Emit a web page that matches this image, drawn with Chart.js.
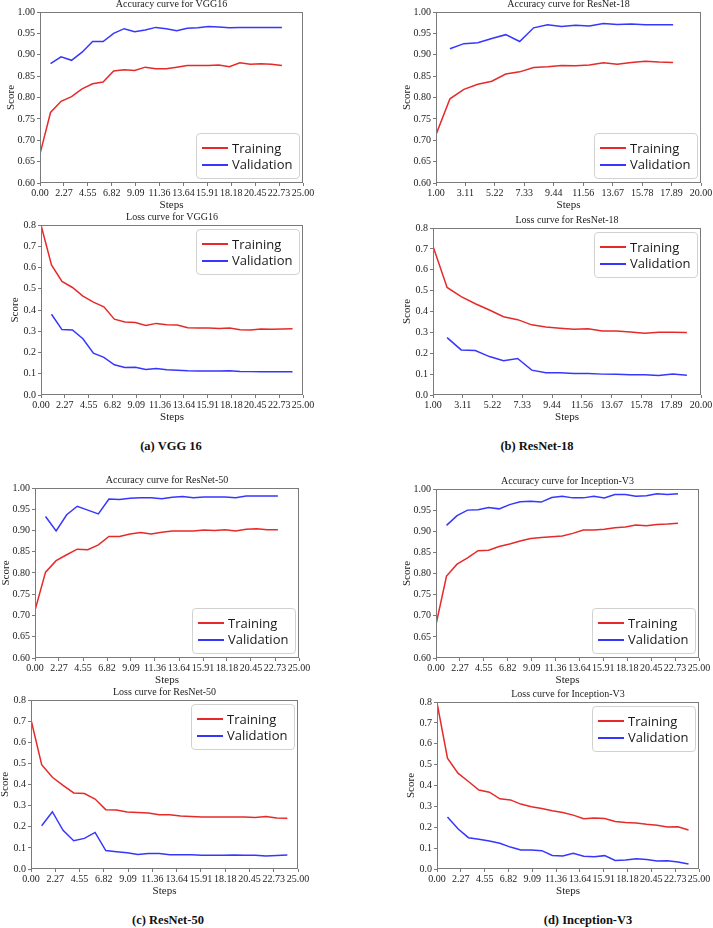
<!DOCTYPE html>
<html><head><meta charset="utf-8">
<script src="https://cdn.jsdelivr.net/npm/chart.js@4.4.1/dist/chart.umd.min.js"></script>
<style>
html,body{margin:0;padding:0;background:#fff}
body{width:713px;height:928px;position:relative;overflow:hidden}
.lg{position:absolute;border:1px solid #d2d2d2;border-radius:4px;background:rgba(255,255,255,0.9);box-sizing:border-box;font-family:'Open Sans',sans-serif;font-size:13px;color:#1a1a1a}
.lg .row{position:absolute;left:0;height:17px;line-height:17px;width:100%}
.lg .sw{position:absolute;left:5px;top:7.5px;width:26px;height:2px}
.lg .tx{position:absolute;left:35.5px;top:0;white-space:nowrap}
.cap{position:absolute;font-family:'Liberation Serif',serif;font-weight:bold;font-size:12.5px;color:#111;transform:translate(-50%,-50%);white-space:nowrap}
</style></head>
<body>
<div class="cap" style="left:171px;top:446px">(a) VGG 16</div>
<div class="cap" style="left:537px;top:446px">(b) ResNet-18</div>
<div class="cap" style="left:168px;top:920px">(c) ResNet-50</div>
<div class="cap" style="left:588px;top:920px">(d) Inception-V3</div>
<script>
// ---- tick labels ----
const stepTicks25 = ['0.00','2.27','4.55','6.82','9.09','11.36','13.64','15.91','18.18','20.45','22.73','25.00'];
const stepTicks20 = ['1.00','3.11','5.22','7.33','9.44','11.56','13.67','15.78','17.89','20.00'];
const accTicks = ['0.60','0.65','0.70','0.75','0.80','0.85','0.90','0.95','1.00'];
const lossTicks = ['0.0','0.1','0.2','0.3','0.4','0.5','0.6','0.7','0.8'];
const seriesLabels = ['Training','Validation'];

// ---- VGG16 ----
const vggAccTrain = [0.668,0.765,0.791,0.802,0.820,0.832,0.836,0.862,0.865,0.863,0.871,0.867,0.867,0.871,0.875,0.875,0.875,0.876,0.872,0.881,0.878,0.879,0.878,0.875];
const vggAccVal = [0.879,0.895,0.887,0.906,0.931,0.931,0.950,0.961,0.954,0.958,0.964,0.961,0.956,0.962,0.963,0.966,0.965,0.963,0.964,0.964,0.964,0.964,0.964];
const vggLossTrain = [0.80,0.612,0.534,0.506,0.465,0.437,0.415,0.357,0.344,0.341,0.327,0.337,0.331,0.329,0.317,0.315,0.315,0.313,0.315,0.307,0.306,0.311,0.309,0.311,0.312];
const vggLossVal = [0.380,0.308,0.306,0.265,0.197,0.177,0.142,0.130,0.131,0.120,0.125,0.119,0.117,0.114,0.113,0.113,0.113,0.114,0.111,0.110,0.110,0.110,0.110,0.110];

// ---- ResNet-18 ----
const r18AccTrain = [0.713,0.797,0.819,0.831,0.838,0.855,0.860,0.870,0.872,0.875,0.874,0.876,0.881,0.878,0.882,0.885,0.883,0.882];
const r18AccVal = [0.914,0.926,0.928,0.938,0.947,0.931,0.963,0.970,0.966,0.969,0.967,0.973,0.971,0.972,0.970,0.970,0.970];
const r18LossTrain = [0.713,0.515,0.471,0.437,0.407,0.375,0.361,0.336,0.326,0.320,0.315,0.317,0.307,0.307,0.302,0.296,0.301,0.301,0.299];
const r18LossVal = [0.275,0.216,0.213,0.184,0.164,0.175,0.119,0.107,0.107,0.103,0.103,0.100,0.099,0.097,0.097,0.094,0.100,0.095];

// ---- ResNet-50 ----
const r50AccTrain = [0.712,0.802,0.829,0.843,0.856,0.855,0.866,0.886,0.886,0.892,0.895,0.892,0.896,0.899,0.899,0.899,0.901,0.900,0.902,0.899,0.903,0.904,0.902,0.902];
const r50AccVal = [0.933,0.899,0.937,0.957,0.948,0.939,0.974,0.973,0.976,0.977,0.977,0.975,0.978,0.980,0.977,0.979,0.979,0.979,0.977,0.981,0.981,0.981,0.981];
const r50LossTrain = [0.707,0.494,0.434,0.396,0.360,0.357,0.331,0.281,0.279,0.270,0.267,0.265,0.257,0.257,0.251,0.248,0.246,0.246,0.246,0.246,0.246,0.244,0.248,0.241,0.240];
const r50LossVal = [0.205,0.271,0.183,0.134,0.145,0.173,0.087,0.082,0.077,0.069,0.073,0.073,0.068,0.068,0.068,0.065,0.065,0.065,0.066,0.065,0.065,0.062,0.064,0.066];

// ---- Inception-V3 ----
const incAccTrain = [0.679,0.794,0.822,0.837,0.854,0.855,0.864,0.870,0.877,0.883,0.885,0.887,0.889,0.895,0.903,0.903,0.905,0.908,0.910,0.915,0.913,0.916,0.917,0.919];
const incAccVal = [0.914,0.937,0.950,0.951,0.956,0.953,0.963,0.970,0.971,0.969,0.980,0.983,0.979,0.979,0.983,0.979,0.987,0.987,0.983,0.984,0.989,0.987,0.989];
const incLossTrain = [0.797,0.531,0.459,0.419,0.378,0.368,0.336,0.331,0.311,0.298,0.290,0.279,0.271,0.258,0.241,0.244,0.242,0.228,0.223,0.220,0.214,0.210,0.201,0.202,0.187];
const incLossVal = [0.249,0.193,0.150,0.143,0.134,0.123,0.105,0.091,0.091,0.088,0.065,0.062,0.075,0.061,0.059,0.064,0.041,0.043,0.049,0.045,0.038,0.040,0.033,0.024];

// ---- layout (not data) ----
const RED = '#e62a2a', BLUE = '#3636ff', AX = '#7a7a7a', TXT = '#222';
const panels = [
  {title:'Accuracy curve for VGG16', l:40,t:12,r:303,b:183, yW:35, xt:stepTicks25, yt:accTicks, tr:vggAccTrain, s0:0, va:vggAccVal, s1:1, lg:'br'},
  {title:'Loss curve for VGG16', l:41,t:225,r:303,b:395, yW:32, xt:stepTicks25, yt:lossTicks, tr:vggLossTrain, s0:0, va:vggLossVal, s1:1, lg:'tr'},
  {title:'Accuracy curve for ResNet-18', l:436,t:12,r:701,b:183, yW:35, xt:stepTicks20, yt:accTicks, tr:r18AccTrain, s0:1, va:r18AccVal, s1:2, lg:'br'},
  {title:'Loss curve for ResNet-18', l:433,t:228,r:701,b:395, yW:32, xt:stepTicks20, yt:lossTicks, tr:r18LossTrain, s0:1, va:r18LossVal, s1:2, lg:'tr'},
  {title:'Accuracy curve for ResNet-50', l:35,t:488,r:299,b:658, yW:35, xt:stepTicks25, yt:accTicks, tr:r50AccTrain, s0:0, va:r50AccVal, s1:1, lg:'br'},
  {title:'Loss curve for ResNet-50', l:31,t:700,r:298,b:869, yW:32, xt:stepTicks25, yt:lossTicks, tr:r50LossTrain, s0:0, va:r50LossVal, s1:1, lg:'tr'},
  {title:'Accuracy curve for Inception-V3', l:436,t:489,r:699,b:658, yW:35, xt:stepTicks25, yt:accTicks, tr:incAccTrain, s0:0, va:incAccVal, s1:1, lg:'br'},
  {title:'Loss curve for Inception-V3', l:437,t:702,r:699,b:869, yW:32, xt:stepTicks25, yt:lossTicks, tr:incLossTrain, s0:0, va:incLossVal, s1:1, lg:'tr'}
];

const frame = {
  id:'frame',
  afterDatasetsDraw(c){
    const {ctx, chartArea:a} = c;
    ctx.save();
    ctx.strokeStyle = AX; ctx.lineWidth = 1;
    ctx.strokeRect(Math.round(a.left)+0.5, Math.round(a.top)+0.5, Math.round(a.right-a.left)-1, Math.round(a.bottom-a.top)-1);
    ctx.restore();
  }
};

const serif = 'Liberation Serif';
const PADR = 16, TOPH = 14, XH = 30;

function makeChart(p){
  const cv = document.createElement('canvas');
  const W = p.yW + (p.r - p.l) + PADR;
  const H = TOPH + (p.b - p.t) + XH;
  const left = p.l - p.yW, top = p.t - TOPH;
  cv.width = W; cv.height = H;
  cv.style.cssText = 'position:absolute;left:'+left+'px;top:'+top+'px;width:'+W+'px;height:'+H+'px';
  document.body.appendChild(cv);

  const legendPlugin = {
    id:'htmlLegend',
    afterRender(c){
      if (c.$lgDone) return; c.$lgDone = true;
      const a = c.chartArea, bw = 104, bh = 46;
      const box = document.createElement('div');
      box.className = 'lg';
      const L = left + a.right - 3.5 - bw;
      const T = p.lg === 'br' ? top + a.bottom - 4 - bh : top + a.top + 4;
      box.style.cssText = 'left:'+L+'px;top:'+T+'px;width:'+bw+'px;height:'+bh+'px';
      c.data.datasets.forEach((ds,i) => {
        const row = document.createElement('div');
        row.className = 'row'; row.style.top = (5.5 + i*16.5) + 'px';
        const sw = document.createElement('span'); sw.className = 'sw'; sw.style.background = ds.borderColor;
        const tx = document.createElement('span'); tx.className = 'tx'; tx.textContent = ds.label;
        row.appendChild(sw); row.appendChild(tx); box.appendChild(row);
      });
      document.body.appendChild(box);
    }
  };

  const xv = p.xt.map(parseFloat), yv = p.yt.map(parseFloat);
  new Chart(cv, {
    type:'line',
    data:{datasets:[
      {label:seriesLabels[0], data:p.tr.map((v,i)=>({x:p.s0+i, y:v})), borderColor:RED, backgroundColor:RED, borderWidth:1.5, pointRadius:0, fill:false, tension:0},
      {label:seriesLabels[1], data:p.va.map((v,i)=>({x:p.s1+i, y:v})), borderColor:BLUE, backgroundColor:BLUE, borderWidth:1.5, pointRadius:0, fill:false, tension:0}
    ]},
    options:{
      responsive:false, animation:false, events:[], devicePixelRatio:1,
      layout:{padding:{left:0, right:PADR, top:0, bottom:0}},
      plugins:{
        legend:{display:false}, tooltip:{enabled:false},
        title:{display:true, fullSize:false, text:p.title, color:TXT, font:{family:serif, size:10, weight:'normal', lineHeight:'11px'}, padding:{top:1, bottom:2}}
      },
      scales:{
        x:{
          type:'linear', min:xv[0], max:xv[xv.length-1],
          afterBuildTicks:s=>{ s.ticks = xv.map(v=>({value:v})); },
          afterFit:s=>{ s.height = XH; },
          ticks:{autoSkip:false, maxRotation:0, minRotation:0, padding:1, color:TXT, font:{family:serif, size:10}, callback:(v,i)=>p.xt[i]},
          grid:{display:true, drawOnChartArea:false, drawTicks:true, tickLength:3, color:AX},
          border:{display:false},
          title:{display:true, text:'Steps', color:TXT, font:{family:serif, size:11}, padding:{top:0, bottom:1.4}}
        },
        y:{
          type:'linear', min:yv[0], max:yv[yv.length-1],
          afterBuildTicks:s=>{ s.ticks = yv.map(v=>({value:v})); },
          afterFit:s=>{ s.width = p.yW; },
          ticks:{autoSkip:false, padding:2, color:TXT, font:{family:serif, size:10}, callback:(v,i)=>p.yt[i]},
          grid:{display:true, drawOnChartArea:false, drawTicks:true, tickLength:3, color:AX},
          border:{display:false},
          title:{display:true, text:'Score', color:TXT, font:{family:serif, size:11}, padding:{top:0, bottom:0}}
        }
      }
    },
    plugins:[frame, legendPlugin]
  });
}
panels.forEach(makeChart);
</script>
</body></html>
